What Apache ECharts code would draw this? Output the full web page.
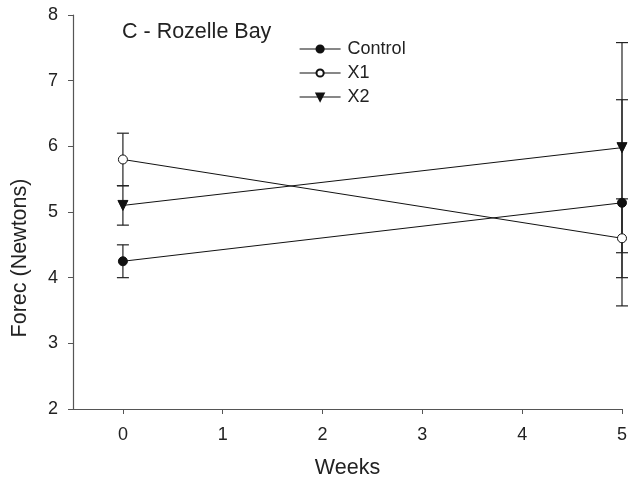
<!DOCTYPE html>
<html>
<head>
<meta charset="utf-8">
<script src="https://cdn.jsdelivr.net/npm/echarts@6/dist/echarts.min.js"></script>
<style>html,body{margin:0;padding:0;background:#fff}#c{width:630px;height:484px}</style>
</head>
<body>
<div id="c"></div>
<script>
var weeks = [0, 5];
var xTicks = [0, 1, 2, 3, 4, 5];
var controlMean = [4.25, 5.14];
var controlErr = [0.25, 1.57];
var x1Mean = [5.80, 4.60];
var x1Err = [0.40, 0.60];
var x2Mean = [5.10, 5.98];
var x2Err = [0.30, 1.60];

var FONT = '"Liberation Sans", Arial, sans-serif';

function pts(means) { return weeks.map(function (w, i) { return [w, means[i]]; }); }
function errs(means, e) { return weeks.map(function (w, i) { return [w, means[i] - e[i], means[i] + e[i]]; }); }

function errSeries(means, e) {
  return {
    type: 'custom',
    z: 1,
    silent: true,
    data: errs(means, e),
    encode: { x: 0, y: [1, 2] },
    renderItem: function (params, api) {
      var lo = api.coord([api.value(0), api.value(1)]);
      var hi = api.coord([api.value(0), api.value(2)]);
      var hw = 6;
      var st = { stroke: '#222', lineWidth: 1.2 };
      return {
        type: 'group',
        children: [
          { type: 'line', shape: { x1: lo[0], y1: lo[1], x2: hi[0], y2: hi[1] }, style: st },
          { type: 'line', shape: { x1: lo[0] - hw, y1: lo[1], x2: lo[0] + hw, y2: lo[1] }, style: st },
          { type: 'line', shape: { x1: hi[0] - hw, y1: hi[1], x2: hi[0] + hw, y2: hi[1] }, style: st }
        ]
      };
    }
  };
}

var chart = echarts.init(document.getElementById('c'), null, { renderer: 'canvas' });
chart.setOption({
  animation: false,
  backgroundColor: '#fff',
  textStyle: { fontFamily: FONT },
  title: {
    text: 'C - Rozelle Bay',
    left: 122, top: 21, padding: 0,
    textStyle: { fontFamily: FONT, fontSize: 21.5, fontWeight: 'normal', color: '#222' }
  },
  legend: {
    orient: 'vertical',
    left: 294, top: 35,
    itemWidth: 41, itemHeight: 9, itemGap: 6,
    lineStyle: { width: 1.2, color: '#111' },
    textStyle: { fontFamily: FONT, fontSize: 18, color: '#222', padding: [0, 0, 0, 2] },
    data: ['Control', 'X1', 'X2']
  },
  grid: { left: 73, right: 7, top: 15, bottom: 74, containLabel: false },
  xAxis: {
    type: 'value', min: -0.5, max: 5,
    name: 'Weeks', nameLocation: 'middle', nameGap: 48,
    nameTextStyle: { fontFamily: FONT, fontSize: 21.5, color: '#222' },
    axisLine: { onZero: false, lineStyle: { color: '#555', width: 1.2 } },
    axisTick: { customValues: xTicks, length: 5, lineStyle: { color: '#555' } },
    axisLabel: { customValues: xTicks, fontFamily: FONT, fontSize: 18, color: '#222', margin: 17 },
    splitLine: { show: false }
  },
  yAxis: {
    type: 'value', min: 2, max: 8, interval: 1,
    axisLine: { show: true, onZero: false, lineStyle: { color: '#555', width: 1.2 } },
    axisTick: { show: true, length: 5, lineStyle: { color: '#555' } },
    axisLabel: { fontFamily: FONT, fontSize: 18, color: '#222', margin: 15 },
    splitLine: { show: false }
  },
  graphic: [{
    type: 'text', x: 20, y: 258, rotation: Math.PI / 2,
    style: { text: 'Forec (Newtons)', fontFamily: FONT, fontSize: 21.5, fill: '#222', align: 'center', verticalAlign: 'middle' }
  }],
  series: [
    errSeries(controlMean, controlErr),
    errSeries(x1Mean, x1Err),
    errSeries(x2Mean, x2Err),
    {
      name: 'Control', type: 'line', z: 3, data: pts(controlMean),
      symbol: 'circle', symbolSize: 9,
      lineStyle: { color: '#111', width: 1 },
      itemStyle: { color: '#111', borderColor: '#111', borderWidth: 1 }
    },
    {
      name: 'X1', type: 'line', z: 3, data: pts(x1Mean),
      symbol: 'circle', symbolSize: 9, showAllSymbol: true,
      lineStyle: { color: '#111', width: 1 },
      itemStyle: { color: '#fff', borderColor: '#111', borderWidth: 1 }
    },
    {
      name: 'X2', type: 'line', z: 3, data: pts(x2Mean),
      symbol: 'triangle', symbolRotate: 180, symbolSize: 10,
      lineStyle: { color: '#111', width: 1 },
      itemStyle: { color: '#111', borderColor: '#111', borderWidth: 1 }
    }
  ]
});
</script>
</body>
</html>
